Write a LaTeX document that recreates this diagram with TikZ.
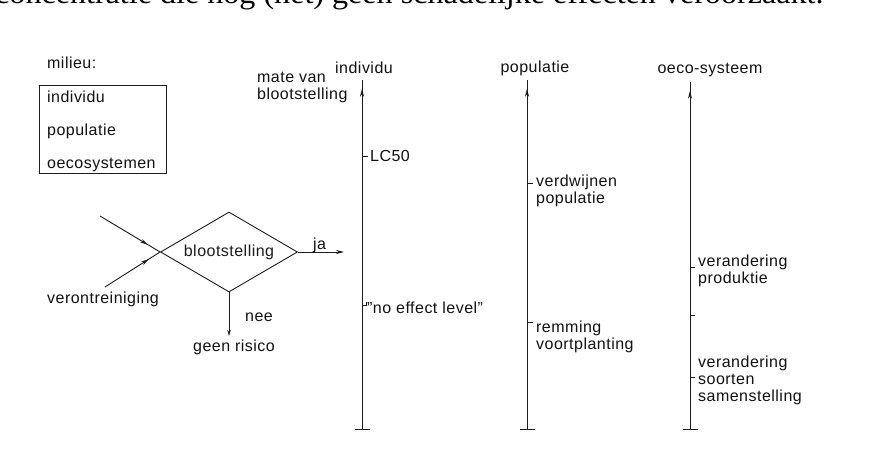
\documentclass[tikz,border=0pt]{standalone}
\usepackage{fontspec}
\setsansfont{Liberation Sans}[LetterSpace=3]
\newfontfamily\bodyserif{Liberation Serif}
\usetikzlibrary{arrows.meta,shapes.geometric,decorations.markings}
\definecolor{inkline}{HTML}{1C1C1C}
\definecolor{inktext}{HTML}{121212}

\begin{document}
\begin{tikzpicture}[x=1pt,y=-1pt,
    lab/.style={font=\sffamily\fontsize{16}{17}\selectfont,inner sep=0pt,align=left,text=inktext},
    conn/.style={line width=0.9pt,inkline},
    midtip/.style={postaction={decorate},decoration={markings,
        mark=at position #1 with {\arrow{Stealth[length=8pt,width=4pt]}}}},
    axline/.style={conn,{Bar[width=15pt]}-,midtip=0.975},
    axtick/.style={conn}]
  \useasboundingbox[fill=white] (0,0) rectangle (894,457);

  % last line of the text above, cut by the page edge
  \begin{scope}
    \clip (0,0) rectangle (894,457);
    \node[anchor=base west,inner sep=0pt,font=\bodyserif\fontsize{30}{30}\selectfont] (bovenregel) at (-5,3.5)
          {\scalebox{1.07}[1]{concentratie die nog (net) geen schadelijke effecten veroorzaakt.}};
  \end{scope}

  % milieu
  \node[lab,anchor=base west] (milieu) at (47,69) {milieu:};
  \node[draw,conn,minimum width=127pt,minimum height=88pt,inner sep=0pt] (milieubox) at (102.5,129) {};
  \node[lab,anchor=base west] (mindiv) at (47,103) {individu};
  \node[lab,anchor=base west] (mpop) at (47,136) {populatie};
  \node[lab,anchor=base west] (meco) at (47,169) {oecosystemen};

  % beslissing
  \node[lab,diamond,draw,conn,aspect=1.7,minimum width=137pt,minimum height=80pt] (bloot) at (229,252) {blootstelling};
  \coordinate (vin1) at (100,216);
  \coordinate (vin2) at (105,287);
  \draw[conn,midtip=0.8] (vin1) -- (bloot.west);
  \draw[conn,midtip=0.8] (vin2) -- (bloot.west);
  \node[lab,anchor=base west] (veront) at (47,303) {verontreiniging};

  \coordinate (jaeind) at (344,252);
  \draw[conn,-{Stealth[length=8pt,width=4pt]}] (bloot.east) -- (jaeind);
  \node[lab,anchor=base west] (ja) at (313,249) {ja};

  \node[lab,anchor=base west] (geen) at (193,351) {geen risico};
  \draw[conn,-{Stealth[length=6pt,width=3.5pt]}] (bloot.south) -- (bloot.south |- 0,336);
  \node[lab,anchor=base west] (nee) at (245,321) {nee};

  % assen (onderste regel is de base)
  \node[lab,anchor=base west] (mate) at (257,100) {mate van\\blootstelling};

  \node[lab,anchor=base] (indiv) at (364,74) {individu};
  \coordinate (ibot) at (362,430);
  \coordinate (itop) at (362,80);
  \draw[axline] (ibot) -- (itop);
  \draw[axtick] (362,156) -- ++(6,0);
  \node[lab,anchor=base west] (lc) at (370,162) {LC50};
  \draw[axtick] (362,305) -- ++(4,0) -- ++(0,-3);
  \node[lab,anchor=base west] (noel) at (367,313) {''no effect level''};

  \node[lab,anchor=base] (pop) at (535,73) {populatie};
  \coordinate (pbot) at (527,430);
  \coordinate (ptop) at (527,80);
  \draw[axline] (pbot) -- (ptop);
  \draw[axtick] (527,183) -- ++(6,0);
  \node[lab,anchor=base west] (verdw) at (536,204) {verdwijnen\\populatie};
  \draw[axtick] (527,322) -- ++(6,0);
  \node[lab,anchor=base west] (remm) at (536,349) {remming\\voortplanting};

  \node[lab,anchor=base] (eco) at (710,74) {oeco-systeem};
  \coordinate (ebot) at (690,430);
  \coordinate (etop) at (690,82);
  \draw[axline] (ebot) -- (etop);
  \draw[axtick] (690,267) -- ++(5,0);
  \node[lab,anchor=base west] (prod) at (698,283) {verandering\\produktie};
  \draw[axtick] (690,315) -- ++(5,0);
  \draw[axtick] (690,377) -- ++(5,0);
  \node[lab,anchor=base west] (soort) at (698,401) {verandering\\soorten\\samenstelling};
\end{tikzpicture}
\end{document}
